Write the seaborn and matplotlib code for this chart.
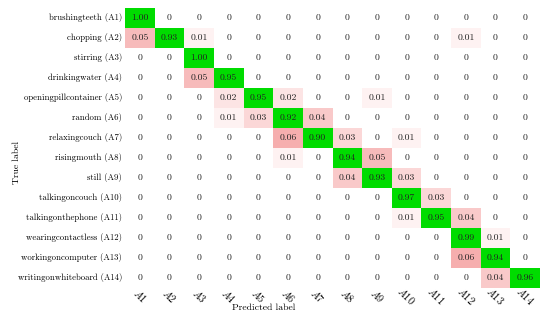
import numpy as np
import pandas as pd
import matplotlib
matplotlib.use('Agg')
import matplotlib.pyplot as plt
from matplotlib.colors import LinearSegmentedColormap, ListedColormap
import seaborn as sns

activities = ['brushingteeth', 'chopping', 'stirring', 'drinkingwater',
              'openingpillcontainer', 'random', 'relaxingcouch', 'risingmouth',
              'still', 'talkingoncouch', 'talkingonthephone', 'wearingcontactless',
              'workingoncomputer', 'writingonwhiteboard']
codes = ['A%d' % (i + 1) for i in range(len(activities))]

# rows = true label, cols = predicted label
cm = [
    [1.00, 0, 0, 0, 0, 0, 0, 0, 0, 0, 0, 0, 0, 0],
    [0.05, 0.93, 0.01, 0, 0, 0, 0, 0, 0, 0, 0, 0.01, 0, 0],
    [0, 0, 1.00, 0, 0, 0, 0, 0, 0, 0, 0, 0, 0, 0],
    [0, 0, 0.05, 0.95, 0, 0, 0, 0, 0, 0, 0, 0, 0, 0],
    [0, 0, 0, 0.02, 0.95, 0.02, 0, 0, 0.01, 0, 0, 0, 0, 0],
    [0, 0, 0, 0.01, 0.03, 0.92, 0.04, 0, 0, 0, 0, 0, 0, 0],
    [0, 0, 0, 0, 0, 0.06, 0.90, 0.03, 0, 0.01, 0, 0, 0, 0],
    [0, 0, 0, 0, 0, 0.01, 0, 0.94, 0.05, 0, 0, 0, 0, 0],
    [0, 0, 0, 0, 0, 0, 0, 0.04, 0.93, 0.03, 0, 0, 0, 0],
    [0, 0, 0, 0, 0, 0, 0, 0, 0, 0.97, 0.03, 0, 0, 0],
    [0, 0, 0, 0, 0, 0, 0, 0, 0, 0.01, 0.95, 0.04, 0, 0],
    [0, 0, 0, 0, 0, 0, 0, 0, 0, 0, 0, 0.99, 0.01, 0],
    [0, 0, 0, 0, 0, 0, 0, 0, 0, 0, 0, 0.06, 0.94, 0],
    [0, 0, 0, 0, 0, 0, 0, 0, 0, 0, 0, 0, 0.04, 0.96],
]

ylabels = ['%s (%s)' % (a, c) for a, c in zip(activities, codes)]
xlabels = ['$%s$' % c for c in codes]

df = pd.DataFrame(cm, index=ylabels, columns=xlabels)
annot = df.map(lambda v: '0' if v == 0 else '%.2f' % v)

plt.rcParams['font.family'] = ['cmr10']
plt.rcParams['mathtext.fontset'] = 'cm'
plt.rcParams['axes.unicode_minus'] = False

fig = plt.figure(figsize=(5.5, 3.17), dpi=100)
ax = fig.add_axes([125 / 550, 1 - 288 / 317, 415 / 550, 280 / 317])

diag = np.eye(len(codes), dtype=bool)
reds = LinearSegmentedColormap.from_list('pink', ['#ffffff', '#f07878'])
greens = ListedColormap(['#00dc00'])

kw = dict(annot=annot, fmt='', cbar=False, ax=ax,
          annot_kws={'fontsize': 7, 'color': '#222222'})
sns.heatmap(df, mask=diag, cmap=reds, vmin=0, vmax=0.1, **kw)
sns.heatmap(df, mask=~diag, cmap=greens, vmin=0, vmax=1, **kw)

ax.tick_params(axis='y', length=0, labelsize=6.3, pad=2)
ax.tick_params(axis='x', length=0, labelsize=7.5, pad=5.5)
ax.set_xticklabels(xlabels, rotation=-45, ha='center', va='center',
                   rotation_mode='anchor')
ax.set_yticklabels(ylabels, rotation=0)
ax.set_xlabel('Predicted label', fontsize=7)
ax.set_ylabel('True label', fontsize=7)
ax.xaxis.set_label_coords(0.333, -0.055)
ax.yaxis.set_label_coords(-0.25, 0.45)

fig.savefig('out.png', dpi=100)
